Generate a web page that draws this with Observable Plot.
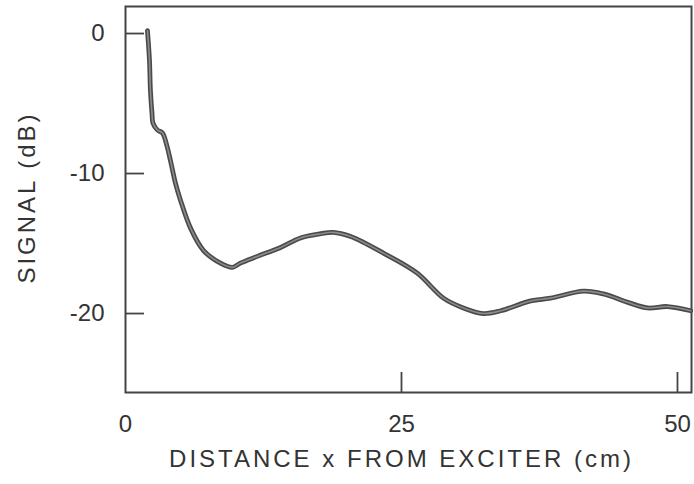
<!DOCTYPE html>
<html>
<head>
<meta charset="utf-8">
<script src="https://cdn.jsdelivr.net/npm/d3@7"></script>
<script src="https://cdn.jsdelivr.net/npm/@observablehq/plot@0.6"></script>
<style>
  html, body { margin: 0; padding: 0; background: #fff; }
  #chart { width: 694px; height: 484px; }
</style>
</head>
<body>
<div id="chart"></div>
<script>
// Data
const distance = [1.99, 2.17, 2.26, 2.40, 2.49, 2.90, 3.35, 3.71, 4.08, 4.53, 4.98, 5.89, 7.07, 8.6, 9.7, 10.4, 12.0, 14.0, 15.85, 17.7, 18.8, 20.4, 23.4, 26.4, 28.8, 30.6, 32.4, 34.0, 36.7, 38.5, 41.5, 43.3, 45.5, 47.3, 49.1, 51.2];
const signal   = [0.2, -1.9, -4.1, -5.7, -6.4, -6.9, -7.1, -7.9, -9.1, -10.7, -11.9, -13.9, -15.5, -16.4, -16.7, -16.4, -15.9, -15.3, -14.6, -14.3, -14.2, -14.5, -15.7, -17.1, -18.9, -19.6, -20.0, -19.8, -19.1, -18.9, -18.4, -18.6, -19.2, -19.6, -19.5, -19.8];
const xTicks = [0, 25, 50];
const yTicks = [0, -10, -20];
const xInnerTicks = [25, 50];
const xLabel = "DISTANCE x FROM EXCITER (cm)";
const yLabel = "SIGNAL (dB)";

const data = distance.map((d, i) => ({x: d, y: signal[i]}));
const xDomain = [0, 51.27];
const yDomain = [-25.64, 1.93];
const W = 694, H = 484;
const mL = 125, mR = 3, mT = 6, mB = 92;
const pxPerX = (W - mL - mR) / (xDomain[1] - xDomain[0]);
const pxPerY = (H - mT - mB) / (yDomain[1] - yDomain[0]);

const ink = "#333";
const chart = Plot.plot({
  width: W, height: H,
  marginLeft: mL, marginRight: mR, marginTop: mT, marginBottom: mB,
  style: {fontFamily: "'Liberation Sans', Arial, sans-serif", fontSize: "24px", color: ink, background: "#fff"},
  x: {domain: xDomain},
  y: {domain: yDomain},
  marks: [
    Plot.axisX({ticks: xTicks, tickSize: 0, tickPadding: 22, tickFormat: d => String(d), label: null, fontSize: 24, fill: ink}),
    Plot.axisY({ticks: yTicks, tickSize: 0, tickPadding: 21, tickFormat: d => String(d), label: null, fontSize: 24, fill: ink}),
    Plot.ruleX(xInnerTicks, {x: d => d, y1: yDomain[0], y2: yDomain[0] + 20 / pxPerY, stroke: "#444", strokeWidth: 1.8}),
    Plot.ruleY(yTicks, {y: d => d, x1: xDomain[0], x2: xDomain[0] + 19 / pxPerX, stroke: "#444", strokeWidth: 1.8}),
    Plot.frame({stroke: "#444", strokeWidth: 2}),
    Plot.line(data, {x: "x", y: "y", stroke: "#4a4a4a", strokeWidth: 4.8, curve: "catmull-rom", strokeLinecap: "round"}),
    Plot.line(data, {x: "x", y: "y", stroke: "#8c8c8c", strokeWidth: 1.6, curve: "catmull-rom", strokeLinecap: "round"}),
    Plot.text([xLabel], {text: d => d, frameAnchor: "bottom", textAnchor: "middle", lineAnchor: "middle", dy: 67, dx: -7, fontSize: 24, fill: ink}),
    Plot.text([yLabel], {text: d => d, frameAnchor: "left", textAnchor: "middle", lineAnchor: "middle", dx: -98, dy: -2, rotate: -90, fontSize: 24, fill: ink})
  ]
});
d3.select(chart).selectAll("text")
  .filter(function() { return this.textContent === xLabel || this.textContent === yLabel; })
  .style("letter-spacing", "3px");
document.getElementById("chart").appendChild(chart);
</script>
</body>
</html>
